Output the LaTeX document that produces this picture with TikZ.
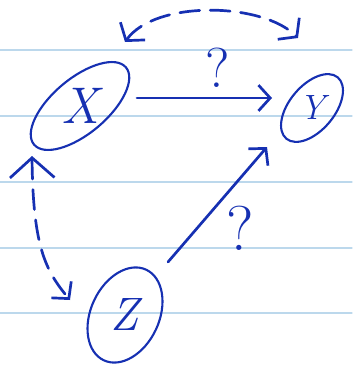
\documentclass[tikz,border=0pt]{standalone}
\usepackage{tikz}
\usetikzlibrary{positioning, arrows.meta, calc, shapes.geometric}
\definecolor{ink}{RGB}{22,48,178}
\definecolor{paperrule}{RGB}{188,216,236}
\newcommand{\tilted}[3]{\fontsize{#2}{#2}\selectfont\rotatebox{#1}{\makebox[0pt]{\raisebox{-0.34em}[0pt][0pt]{\itshape #3}}}}

\begin{document}
\begin{tikzpicture}[x=0.03cm, y=-0.03cm, line cap=round, line join=round,
  pen/.style={ink, line width=2.3pt},
  var/.style={ellipse, draw=ink, line width=1.8pt, inner sep=0pt, text=ink},
  barb/.style={-{Straight Barb[length=10pt, width=22pt]}},
  twobarb/.style={{Straight Barb[length=10pt, width=26pt]}-{Straight Barb[length=10pt, width=26pt]}},
  dashpen/.style={pen, dash pattern=on 17pt off 9pt},
  query/.style={ink, inner sep=0pt}]
  \useasboundingbox (0,0) rectangle (352,370);
  \foreach \yy in {50,116,182,248,313}
    \draw[paperrule, line width=1.1pt] (0,\yy) -- (352,\yy);
  \node[var, minimum width=3.6cm, minimum height=1.65cm, rotate=40] (X) at (80,106)
    {\tilted{-40}{44}{X}};
  \node[var, minimum width=2.4cm, minimum height=1.35cm, rotate=50] (Y) at (312,108)
    {\tilted{-50}{30}{Y}};
  \node[var, minimum width=3cm, minimum height=2.05cm, rotate=65] (Z) at (125,315)
    {\tilted{-65}{40}{Z}};
  \node[query, font=\fontsize{48}{48}\selectfont] (q1) at (218,68) {?};
  \node[query, font=\fontsize{54}{54}\selectfont] (q2) at (240,228) {?};
  \draw[pen, barb] ($(X)+(57,-8)$) -- ($(Y)+(-40,-10)$);
  \draw[pen, barb] ($(Z)+(43,-53)$) -- ($(Y)+(-45,39)$);
  \draw[dashpen, twobarb] ($(X)+(45,-64)$)
    .. controls ($(X)+(75,-106)$) and ($(Y)+(-50,-106)$) .. ($(Y)+(-14,-70)$);
  \draw[dashpen, {Straight Barb[length=17pt, width=38pt]}-{Straight Barb[length=10pt, width=22pt]}]
    ($(X)+(-48,50)$) .. controls ($(X)+(-47,140)$) and ($(Z)+(-80,-45)$) .. ($(Z)+(-55,-15)$);
\end{tikzpicture}
\end{document}
